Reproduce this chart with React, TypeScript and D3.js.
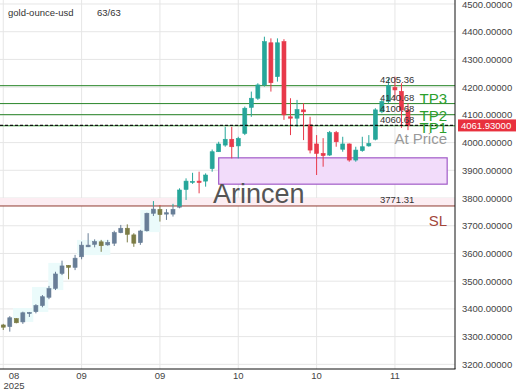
import React from "react";
import * as d3 from "d3";

// daily candles
const opens = [3342, 3336, 3365, 3353, 3383, 3390, 3412, 3442, 3474, 3528, 3557, 3550, 3588, 3624, 3633, 3642, 3631, 3637, 3675, 3691, 3667, 3639, 3682, 3745, 3759, 3742, 3742, 3767, 3831, 3857, 3861, 3861, 3906, 3967, 3991, 4012, 3988, 4033, 4127, 4160, 4208, 4360, 4238, 4364, 4093, 4088, 4118, 4064, 3995, 3961, 3955, 4036, 3976, 3995, 3937, 3971, 3988, 4012, 4111, 4148, 4199, 4185, 4117];
const highs = [3346, 3374, 3367, 3390, 3389, 3417, 3450, 3483, 3534, 3574, 3558, 3595, 3643, 3673, 3651, 3649, 3649, 3682, 3703, 3705, 3673, 3685, 3747, 3789, 3775, 3760, 3779, 3835, 3871, 3891, 3895, 3889, 3975, 4003, 4057, 4057, 4021, 4130, 4184, 4214, 4382, 4376, 4376, 4373, 4160, 4154, 4142, 4093, 4027, 4016, 4042, 4042, 4021, 3997, 3985, 4021, 4027, 4124, 4160, 4232, 4238, 4214, 4142];
const lows = [3324, 3318, 3348, 3346, 3371, 3384, 3406, 3435, 3468, 3522, 3507, 3540, 3579, 3623, 3622, 3606, 3628, 3627, 3673, 3640, 3624, 3631, 3679, 3735, 3715, 3721, 3733, 3763, 3793, 3851, 3817, 3841, 3895, 3966, 3985, 3943, 3943, 4027, 4093, 4154, 4202, 4184, 4220, 4082, 4027, 4057, 4009, 3961, 3883, 3913, 3952, 3985, 3967, 3931, 3931, 3967, 3985, 4008, 4106, 4142, 4154, 4053, 4045];
const closes = [3334, 3368, 3350, 3386, 3387, 3412, 3444, 3473, 3526, 3555, 3550, 3583, 3630, 3630, 3643, 3628, 3640, 3675, 3691, 3669, 3637, 3681, 3745, 3760, 3740, 3747, 3759, 3829, 3861, 3860, 3856, 3883, 3967, 3995, 4012, 3985, 4015, 4124, 4160, 4208, 4364, 4216, 4360, 4100, 4088, 4119, 4111, 3973, 3961, 3953, 4036, 4003, 3995, 3937, 3973, 3985, 3997, 4118, 4148, 4206, 4190, 4117, 4062];

const xTickIdx = [0, 12, 24, 36, 48, 60];
const xTickLabels = ["08", "09", "09", "10", "10", "11"];
const yTicks = d3.range(3200, 4501, 100);

// target / stop levels
const tpPrices = [4205.36, 4140.68, 4100.68, 4060.68];
const slPrice = 3771.31;
const lastPrice = 4061.93;

// purple zone (candle index range, price range)
const boxFrom = 33, boxTo = 68, boxHigh = 3945, boxLow = 3850;

// faint cyan zones behind the early candles
const zoneFrom = [1.5, 4.4, 6.9, 11.3, 21];
const zoneTo = [4.6, 6.9, 9.2, 16.4, 24];
const zoneHigh = [3403, 3479, 3566, 3649, 3757];
const zoneLow = [3353, 3389, 3468, 3594, 3677];

const W = 520, H = 390;
const plotR = 455, plotB = 369;
const font = "'Liberation Sans', Arial, sans-serif";

export default function App() {
  const x = d3.scaleLinear().domain([-0.5, 69.2]).range([0, plotR]);
  const y = d3.scaleLinear().domain([3183.2, 4514.4]).range([plotB, 0]);
  const bw = 4;
  const ySL = y(slPrice);

  const candles = (up: string, down: string, clip: string) => (
    <g clipPath={`url(#${clip})`}>
      {opens.map((o, i) => {
        const c = closes[i];
        const col = c >= o ? up : down;
        const top = y(Math.max(o, c));
        const h = Math.max(1, y(Math.min(o, c)) - top);
        return (
          <g key={i}>
            <line x1={x(i)} x2={x(i)} y1={y(highs[i])} y2={y(lows[i])} stroke={col} strokeWidth={1} />
            <rect x={x(i) - bw / 2} y={top} width={bw} height={h} fill={col} stroke={col} strokeWidth={0.6} />
          </g>
        );
      })}
    </g>
  );

  return (
    <svg width={W} height={H} style={{ position: "fixed", left: 0, top: 0, background: "#fff" }} fontFamily={font}>
      <defs>
        <clipPath id="above"><rect x={0} y={0} width={plotR} height={ySL} /></clipPath>
        <clipPath id="below"><rect x={0} y={ySL} width={plotR} height={plotB - ySL} /></clipPath>
      </defs>

      {/* grid */}
      {yTicks.map((t) => (
        <line key={t} x1={0} x2={plotR} y1={y(t)} y2={y(t)} stroke="#e6e6e6" />
      ))}
      {xTickIdx.map((t) => (
        <line key={t} x1={x(t)} x2={x(t)} y1={0} y2={plotB} stroke="#e6e6e6" />
      ))}

      {/* zones */}
      {zoneFrom.map((f, i) => (
        <rect key={i} x={x(f)} y={y(zoneHigh[i])} width={x(zoneTo[i]) - x(f)} height={y(zoneLow[i]) - y(zoneHigh[i])} fill="#ebfbfb" />
      ))}
      <rect x={0} y={y(3800)} width={plotR} height={ySL - y(3800)} fill="#fcedf2" />
      <rect x={x(boxFrom)} y={y(boxHigh)} width={x(boxTo) - x(boxFrom)} height={y(boxLow) - y(boxHigh)} fill="#f2dcfa" stroke="#a15bc8" strokeWidth={1.2} />

      {/* levels */}
      {tpPrices.map((p) => (
        <line key={p} x1={0} x2={plotR} y1={y(p)} y2={y(p)} stroke="#2a862a" strokeWidth={1} />
      ))}
      <line x1={0} x2={plotR} y1={ySL} y2={ySL} stroke="#8e3b30" strokeWidth={1} />

      {candles("#26a69a", "#e8394a", "above")}
      {candles("#687e97", "#7c7c45", "below")}

      <line x1={0} x2={plotR} y1={y(lastPrice)} y2={y(lastPrice)} stroke="#111" strokeWidth={1.2} strokeDasharray="3,2" />

      <text x={213} y={y(boxLow) + 19} fontSize={27} fill="#555">Arincen</text>

      {/* level labels */}
      {[...tpPrices, slPrice].map((p) => (
        <text key={p} x={380} y={y(p) - 2.5} fontSize={9.5} fill="#333">{p.toFixed(2)}</text>
      ))}
      <text x={447} y={y(tpPrices[1]) + 0.5} fontSize={15} fill="#2ca02c" textAnchor="end">TP3</text>
      <text x={447} y={y(tpPrices[2]) + 6.5} fontSize={15} fill="#2ca02c" textAnchor="end">TP2</text>
      <text x={447} y={y(tpPrices[3]) + 7} fontSize={15} fill="#2ca02c" textAnchor="end">TP1</text>
      <text x={447} y={y(lastPrice) + 19} fontSize={15} fill="#999" textAnchor="end">At Price</text>
      <text x={447} y={ySL + 20} fontSize={15} fill="#a3463a" textAnchor="end">SL</text>

      {/* frame */}
      <line x1={plotR} x2={plotR} y1={0} y2={plotB} stroke="#111" />
      <line x1={0} x2={plotR + 0.5} y1={plotB} y2={plotB} stroke="#111" />

      {/* right axis */}
      {yTicks.map((t) => (
        <text key={t} x={462} y={y(t) + 3.5} fontSize={9.5} fill="#444">{t.toFixed(5)}</text>
      ))}
      <rect x={458} y={y(lastPrice) - 6} width={58} height={12} fill="#e8313e" />
      <text x={461} y={y(lastPrice) + 3.5} fontSize={9.5} fill="#fff">{lastPrice.toFixed(5)}</text>

      {/* bottom axis */}
      {xTickIdx.map((t, i) => (
        <text key={t} x={Math.max(14, x(t))} y={378.5} fontSize={9.5} fill="#444" textAnchor="middle">{xTickLabels[i]}</text>
      ))}
      <text x={14} y={388.5} fontSize={9.5} fill="#444" textAnchor="middle">2025</text>

      {/* title */}
      <text x={8} y={16} fontSize={9.5} fill="#333">gold-ounce-usd</text>
      <text x={97} y={16} fontSize={9.5} fill="#333">63/63</text>
    </svg>
  );
}
